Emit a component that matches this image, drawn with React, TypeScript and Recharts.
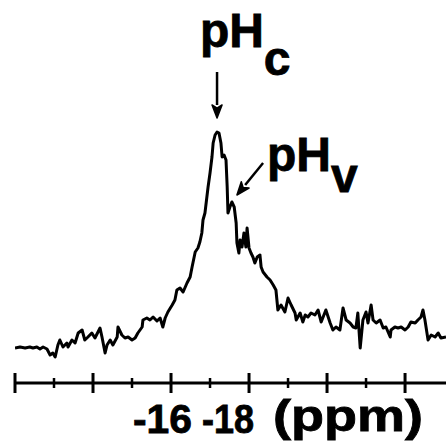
import React from "react";
import {
  Label,
  Line,
  LineChart,
  ReferenceDot,
  ReferenceLine,
  XAxis,
  YAxis,
} from "recharts";

// chemical shift (magnitude, ppm)
const shift = [
  12.0, 12.13, 12.26, 12.38, 12.46, 12.56, 12.64, 12.72, 12.82, 12.9, 12.97,
  13.03, 13.1, 13.15, 13.23, 13.33, 13.36, 13.46, 13.54, 13.62, 13.72, 13.79,
  13.87, 13.97, 14.05, 14.18, 14.23, 14.31, 14.36, 14.44, 14.51, 14.62, 14.64,
  14.74, 14.82, 14.9, 15.0, 15.08, 15.15, 15.26, 15.28, 15.38, 15.46, 15.54,
  15.64, 15.72, 15.79, 15.85, 15.92, 16.03, 16.1, 16.15, 16.23, 16.31, 16.41,
  16.49, 16.54, 16.62, 16.69, 16.74, 16.79, 16.82, 16.87, 16.95, 17.0, 17.05,
  17.08, 17.13, 17.18, 17.23, 17.28, 17.31, 17.36, 17.41, 17.44, 17.46, 17.51,
  17.56, 17.62, 17.67, 17.69, 17.74, 17.77, 17.82, 17.87, 17.92, 17.95, 18.0,
  18.05, 18.1, 18.15, 18.21, 18.28, 18.31, 18.36, 18.46, 18.54, 18.62, 18.69,
  18.74, 18.82, 18.92, 19.0, 19.08, 19.18, 19.21, 19.31, 19.38, 19.44, 19.51,
  19.59, 19.69, 19.77, 19.85, 19.97, 20.08, 20.15, 20.23, 20.33, 20.41, 20.49,
  20.59, 20.67, 20.74, 20.79, 20.85, 20.92, 21.0, 21.05, 21.13, 21.18, 21.26,
  21.36, 21.44, 21.51, 21.62, 21.64, 21.74, 21.82, 21.9, 22.0, 22.08, 22.15,
  22.26, 22.33, 22.41, 22.46, 22.51, 22.59, 22.67, 22.77, 22.85, 22.92, 23.05,
];

// intensity, peak ~ 100
const intensity = [
  14.0, 14.4, 14.0, 14.4, 14.0, 14.4, 13.6, 14.4, 13.6, 11.2, 12.0, 10.4, 15.2,
  17.2, 14.4, 16.0, 14.4, 17.2, 16.0, 20.0, 21.2, 17.2, 18.4, 20.0, 18.0, 22.0,
  18.4, 12.0, 15.2, 17.2, 15.2, 18.4, 22.4, 19.2, 18.0, 18.4, 17.2, 18.0, 20.0,
  22.4, 25.2, 26.0, 25.2, 26.4, 24.8, 26.0, 22.4, 26.0, 28.4, 31.2, 33.2, 37.2,
  38.0, 36.4, 40.0, 42.4, 46.4, 52.4, 54.0, 56.4, 60.0, 65.2, 68.0, 78.4, 84.0,
  90.4, 96.0, 99.2, 100.4, 100.0, 96.0, 90.4, 91.2, 89.2, 78.4, 68.0, 70.4,
  72.4, 70.4, 64.0, 56.0, 52.0, 57.2, 54.4, 60.0, 54.4, 62.0, 54.0, 52.0, 50.4,
  48.0, 50.4, 51.2, 46.4, 44.4, 42.4, 41.2, 39.2, 37.2, 29.2, 31.2, 28.4, 34.0,
  31.2, 28.0, 25.2, 28.0, 24.4, 27.2, 26.4, 28.0, 27.2, 29.2, 24.4, 29.2, 24.0,
  21.2, 22.4, 21.2, 30.0, 25.2, 24.0, 22.4, 22.0, 28.0, 14.0, 25.2, 28.4, 24.0,
  31.2, 25.2, 24.0, 25.2, 22.0, 22.4, 18.4, 21.2, 22.4, 22.0, 22.4, 21.2, 22.4,
  24.4, 24.0, 25.2, 26.4, 29.2, 25.2, 17.2, 19.2, 18.4, 20.0, 18.0, 18.4,
];

const tickValues = [12, 13, 14, 15, 16, 17, 18, 19, 20, 21, 22];
const labeledTicks = [16, 18];
const axisUnit = "(ppm)";

const data = shift.map((s, i) => ({ shift: s, intensity: intensity[i] }));

const FONT = "'Liberation Sans', Arial, sans-serif";

function AxisTick(props: any) {
  const { x, y, payload } = props;
  const v = payload.value;
  const major = v % 2 === 0;
  const h = major ? 10 : 5;
  // the hand lettering sits left of its ticks
  const dx = v === 16 ? -38 : -47;
  const w = v === 16 ? 59 : 52;
  return (
    <g>
      <line
        x1={x}
        x2={x}
        y1={y - h}
        y2={y + h}
        stroke="#000"
        strokeWidth={major ? 3 : 2.5}
      />
      {labeledTicks.includes(v) && (
        <text
          x={x + dx}
          y={y + 50}
          fontFamily={FONT}
          fontWeight="bold"
          fontSize={40}
          textLength={w}
          lengthAdjust="spacingAndGlyphs"
          fill="#000"
          stroke="#000"
          strokeWidth={0.8}
        >
          {`-${v}`}
        </text>
      )}
    </g>
  );
}

function arrow(props: any) {
  const { x1, y1, x2, y2 } = props;
  const a = Math.atan2(y2 - y1, x2 - x1);
  const len = 13;
  const w = 5;
  const bx = x2 - len * Math.cos(a);
  const by = y2 - len * Math.sin(a);
  const px = -Math.sin(a) * w;
  const py = Math.cos(a) * w;
  return (
    <g>
      <line x1={x1} y1={y1} x2={bx} y2={by} stroke="#000" strokeWidth={2.5} />
      <path
        d={`M${x2},${y2} L${bx + px},${by + py} L${bx + len * 0.25 * Math.cos(a)},${by + len * 0.25 * Math.sin(a)} L${bx - px},${by - py} Z`}
        fill="#000"
        stroke="#000"
        strokeWidth={1.5}
        strokeLinejoin="round"
      />
    </g>
  );
}

function peakLabel(sub: string, subDy: number) {
  return (props: any) => (
    <text
      x={props.cx}
      y={props.cy}
      fontFamily={FONT}
      fontWeight="bold"
      fontSize={48}
      fill="#000"
      stroke="#000"
      strokeWidth={0.8}
    >
      <tspan>pH</tspan>
      <tspan dy={subDy}>{sub}</tspan>
    </text>
  );
}

export default function App() {
  return (
    <div
      style={{
        position: "absolute",
        left: 0,
        top: 0,
        width: 446,
        height: 443,
        background: "#fff",
      }}
    >
      <LineChart
        width={446}
        height={443}
        data={data}
        margin={{ top: 0, right: 0, left: 15, bottom: 0 }}
      >
        <XAxis
          dataKey="shift"
          type="number"
          domain={[12, 23.05]}
          allowDataOverflow
          ticks={tickValues}
          interval={0}
          height={60}
          tickSize={0}
          tickMargin={0}
          tickLine={false}
          axisLine={{ stroke: "#000", strokeWidth: 3 }}
          tick={<AxisTick />}
        >
          <Label
            content={(p: any) => (
              <text
                x={p.viewBox.x + 258}
                y={p.viewBox.y + 48}
                fontFamily={FONT}
                fontWeight="bold"
                fontSize={45}
                textLength={150}
                lengthAdjust="spacingAndGlyphs"
                fill="#000"
                stroke="#000"
                strokeWidth={0.8}
              >
                {axisUnit}
              </text>
            )}
          />
        </XAxis>
        <YAxis hide type="number" domain={[0, 153.2]} allowDataOverflow />
        <Line
          type="linear"
          dataKey="intensity"
          stroke="#000"
          strokeWidth={3}
          strokeLinejoin="round"
          dot={false}
          isAnimationActive={false}
        />
        <ReferenceLine
          segment={[
            { x: 17.18, y: 124.4 },
            { x: 17.18, y: 106 },
          ]}
          shape={arrow}
        />
        <ReferenceLine
          segment={[
            { x: 18.36, y: 88 },
            { x: 17.69, y: 75.2 },
          ]}
          shape={arrow}
        />
        <ReferenceDot x={16.74} y={134.4} shape={peakLabel("c", 28)} />
        <ReferenceDot x={18.46} y={84.8} shape={peakLabel("v", 21)} />
      </LineChart>
    </div>
  );
}
